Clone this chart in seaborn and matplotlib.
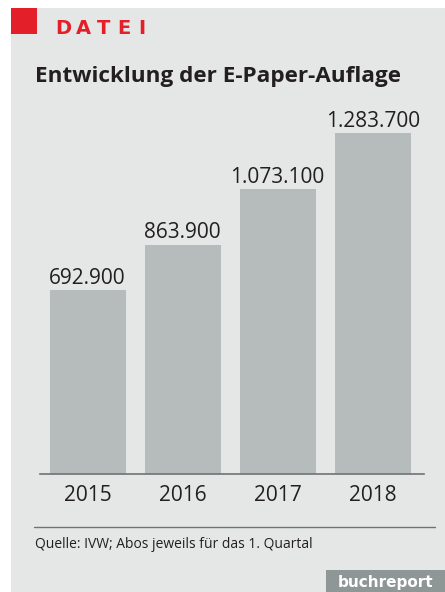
import matplotlib
matplotlib.use("Agg")
import matplotlib.pyplot as plt
import seaborn as sns
import pandas as pd
from matplotlib.patches import Rectangle
from matplotlib.lines import Line2D

# Daten
jahre = ["2015", "2016", "2017", "2018"]
auflage = [692900, 863900, 1073100, 1283700]

titel = "Entwicklung der E-Paper-Auflage"
rubrik = "DATEI"
quelle = "Quelle: IVW; Abos jeweils für das 1. Quartal"
marke = "buchreport"

W, H = 445, 592
BG = "#e4e7e6"
BAR = "#b6bbbb"
RED = "#e3202a"
TXT = "#231f20"
LINE = "#6f7372"

sns.set_theme(style="white")
plt.rcParams["font.family"] = ["Open Sans", "DejaVu Sans"]

df = pd.DataFrame({"Jahr": jahre, "Auflage": auflage})

fig = plt.figure(figsize=(W / 100, H / 100), dpi=100)
fig.patch.set_facecolor("white")


def fx(px):
    return px / W


def fy(py):
    return 1 - py / H


# Hintergrundfläche
fig.patches.append(Rectangle((fx(11), 0), 1 - fx(11), fy(8), transform=fig.transFigure,
                             facecolor=BG, edgecolor="none", zorder=0))
# rotes Quadrat
fig.patches.append(Rectangle((fx(11), fy(34)), fx(26), fy(8) - fy(34), transform=fig.transFigure,
                             facecolor=RED, edgecolor="none", zorder=1))

# Rubrik mit Sperrung
for i, ch in enumerate(rubrik):
    fig.text(fx(55 + i * 20.8), fy(34.3), ch, color=RED, fontsize=14, fontweight="bold",
             ha="left", va="baseline", family=["DejaVu Sans"])

fig.text(fx(35), fy(82), titel, color=TXT, fontsize=16.2, fontweight="bold",
         ha="left", va="baseline")

# Balkendiagramm
ax = fig.add_axes([fx(40), fy(474), fx(424) - fx(40), fy(133) - fy(474)])
ax.set_zorder(3)
ax.set_facecolor("none")
sns.barplot(data=df, x="Jahr", y="Auflage", color=BAR, saturation=1, width=0.8,
            linewidth=0, ax=ax)
ax.set_xlim(-0.5, 3.54)
ax.set_ylim(0, max(auflage))

labels = [f"{v:,}".replace(",", ".") for v in auflage]
ax.bar_label(ax.containers[0], labels=labels, padding=1, fontsize=15, color=TXT)

for s in ["top", "right", "left"]:
    ax.spines[s].set_visible(False)
ax.spines["bottom"].set_color(LINE)
ax.spines["bottom"].set_linewidth(1.2)
ax.set_xlabel("")
ax.set_ylabel("")
ax.set_yticks([])
ax.tick_params(axis="x", length=0, pad=8, labelsize=15, labelcolor=TXT)

# Trennlinie und Quelle
fig.lines.append(Line2D([fx(34), fx(435)], [fy(526.5), fy(526.5)], transform=fig.transFigure,
                        color=LINE, linewidth=1.0))
fig.text(fx(35), fy(548), quelle, color=TXT, fontsize=10, ha="left", va="baseline")

# Markenfeld
fig.patches.append(Rectangle((fx(326), 0), 1 - fx(326), fy(570), transform=fig.transFigure,
                             facecolor="#8f9796", edgecolor="none", zorder=1))
fig.text(fx(338), fy(586.5), marke, color="white", fontsize=11, fontweight="bold",
         ha="left", va="baseline", family=["DejaVu Sans"])

fig.savefig("out.png", dpi=100, facecolor=fig.get_facecolor())
